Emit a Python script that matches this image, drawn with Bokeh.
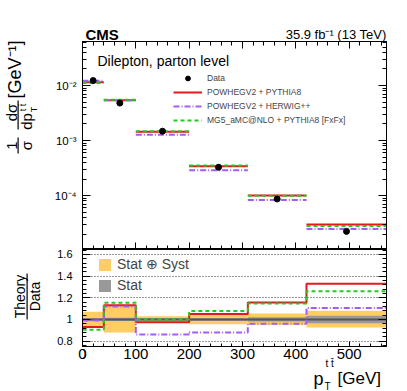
import numpy as np
from bokeh.plotting import figure
from bokeh.layouts import column, row
from bokeh.models import (Range1d, LinearAxis, LogAxis, FixedTicker, SingleIntervalTicker,
                          CustomJSTickFormatter, Legend, LegendItem, Label, BoxAnnotation)
from bokeh.embed import file_html
from bokeh.resources import INLINE

# ---------------- data ----------------
bin_edges = [0, 40, 100, 200, 310, 420, 570]
bin_centers = [20, 70, 150, 255, 365, 495]
data_xsec = [1.23e-2, 4.8e-3, 1.48e-3, 3.27e-4, 8.7e-5, 2.24e-5]

powheg_py8 = [1.144e-2, 5.42e-3, 1.44e-3, 3.43e-4, 1.007e-4, 2.98e-5]
powheg_hw = [1.218e-2, 5.38e-3, 1.27e-3, 2.88e-4, 8.35e-5, 2.48e-5]
mg5_py8 = [1.113e-2, 5.54e-3, 1.48e-3, 3.52e-4, 9.98e-5, 2.82e-5]

ratio_powheg_py8 = [0.93, 1.13, 0.975, 1.05, 1.157, 1.33]
ratio_powheg_hw = [0.99, 1.12, 0.86, 0.88, 0.96, 1.105]
ratio_mg5_py8 = [0.905, 1.155, 1.0, 1.077, 1.147, 1.26]
ratio_data = [1.0, 1.0, 1.0, 1.0, 1.0, 1.0]

tot_up = [0.07, 0.13, 0.03, 0.06, 0.055, 0.08]
tot_dn = [0.07, 0.12, 0.03, 0.045, 0.05, 0.075]
stat_rel = [0.012, 0.015, 0.01, 0.012, 0.02, 0.035]

x_major = 100
y_ratio_major = 0.2

FONT = "Liberation Sans"
RED = "#e3191c"
PURPLE = "#a65cf2"
GREEN = "#1fcc1f"
ORANGE = "#ffcc66"
GREY = "#999999"

# layout constants (pixels)
SW = 42          # width of the left strip holding the y titles
W = 361          # width of the panels
BL, BR = 40, 17  # left / right borders of the panels
H1 = 249
H2 = 98
HB = 44
XMIN, XMAX = 0, 570

log_fmt = CustomJSTickFormatter(code="""
const e = Math.round(Math.log10(tick));
const sup = {'-':'\u207b','0':'\u2070','1':'\u00b9','2':'\u00b2','3':'\u00b3','4':'\u2074','5':'\u2075','6':'\u2076','7':'\u2077','8':'\u2078','9':'\u2079'};
return '10' + String(e).split('').map(c => sup[c]).join('');
""")
ratio_fmt = CustomJSTickFormatter(code="return String(Number(tick.toFixed(2)));")


def style_axis(ax, major_in, minor_in, labels=True, size="11px", standoff=5):
    ax.major_tick_in = major_in
    ax.major_tick_out = 0
    ax.minor_tick_in = minor_in
    ax.minor_tick_out = 0
    ax.axis_line_color = "black"
    ax.major_tick_line_color = "black"
    ax.minor_tick_line_color = "black"
    ax.major_label_text_font = FONT
    ax.major_label_text_color = "black"
    if labels:
        ax.major_label_text_font_size = size
        ax.major_label_standoff = standoff
    else:
        ax.formatter = CustomJSTickFormatter(code="return '';")
        ax.major_label_text_font_size = "1px"
        ax.major_label_standoff = 0


def clean(p):
    p.xgrid.visible = False
    p.ygrid.visible = False
    p.background_fill_color = "white"
    p.border_fill_color = "white"


x_ticker = SingleIntervalTicker(interval=x_major, num_minor_ticks=5)

# ---------------- upper panel ----------------
p1 = figure(width=W, height=H1, x_range=Range1d(XMIN, XMAX), y_range=Range1d(1.05e-5, 6.3e-2),
            y_axis_type="log", output_backend="svg", toolbar_location=None,
            min_border_left=BL, min_border_right=BR, min_border_top=41, min_border_bottom=0)
clean(p1)
p1.outline_line_color = "black"

log_major = FixedTicker(ticks=[10.0 ** e for e in range(-6, 0)],
                        minor_ticks=[k * 10.0 ** e for e in range(-6, 0) for k in range(2, 10)])
p1.yaxis.ticker = log_major
p1.yaxis.formatter = log_fmt
style_axis(p1.yaxis[0], 8, 4, True, "11.5px", 6)
p1.xaxis.ticker = x_ticker
style_axis(p1.xaxis[0], 7, 4, False)
ax_r = LogAxis(ticker=log_major)
style_axis(ax_r, 8, 4, False)
p1.add_layout(ax_r, "right")
ax_t = LinearAxis(ticker=x_ticker)
style_axis(ax_t, 7, 4, False)
p1.add_layout(ax_t, "above")

r_red = p1.segment(x0=bin_edges[:-1], y0=powheg_py8, x1=bin_edges[1:], y1=powheg_py8,
                   line_color=RED, line_width=2)
r_pur = p1.segment(x0=bin_edges[:-1], y0=powheg_hw, x1=bin_edges[1:], y1=powheg_hw,
                   line_color=PURPLE, line_width=2, line_dash="6 2 1 2")
r_grn = p1.segment(x0=bin_edges[:-1], y0=mg5_py8, x1=bin_edges[1:], y1=mg5_py8,
                   line_color=GREEN, line_width=2, line_dash="4 3")

err_lo = [d * (1 - e) for d, e in zip(data_xsec, tot_dn)]
err_hi = [d * (1 + e) for d, e in zip(data_xsec, tot_up)]
p1.segment(x0=bin_centers, y0=err_lo, x1=bin_centers, y1=err_hi, line_color="black", line_width=1.5)
r_dat = p1.scatter(bin_centers, data_xsec, size=6, color="black")
r_bar = p1.scatter(x=[0], y=[1.0], marker="dash", angle=np.pi / 2, size=12,
                   line_color="black", line_width=1.5)

leg1 = Legend(items=[LegendItem(label="Data", renderers=[r_bar, r_dat]),
                     LegendItem(label="POWHEGV2 + PYTHIA8", renderers=[r_red]),
                     LegendItem(label="POWHEGV2 + HERWIG++", renderers=[r_pur]),
                     LegendItem(label="MG5_aMC@NLO + PYTHIA8 [FxFx]", renderers=[r_grn])],
              location=(91, 123), padding=0, margin=0, spacing=2,
              glyph_width=29, glyph_height=12, label_height=12, label_standoff=5,
              label_text_font=FONT, label_text_font_size="8.5px",
              border_line_color=None, background_fill_alpha=0)
p1.add_layout(leg1)


def lab(p, text, x, y, size, units="canvas", place=None, bold=False,
        align="left", baseline="alphabetic", angle=0.0):
    lb = Label(x=x, y=y, x_units=units, y_units=units, text=text,
               text_font=FONT, text_font_size=size, text_color="black",
               text_font_style="bold" if bold else "normal",
               text_align=align, text_baseline=baseline, angle=angle)
    if place is None:
        p.add_layout(lb)
    else:
        p.add_layout(lb, place)


# page x -> panel canvas x : minus SW
lab(p1, "CMS", 85 - SW, 34, "15px", place="above", bold=True)
lab(p1, "35.9 fb\u207b\u00b9 (13 TeV)", 386 - SW, 34, "13px", place="above", align="right")
lab(p1, "Dilepton, parton level", 97 - SW, 60, "14px")

# ---------------- lower panel ----------------
p2 = figure(width=W, height=H2, x_range=p1.x_range, y_range=Range1d(0.75, 1.646),
            output_backend="svg", toolbar_location=None,
            min_border_left=BL, min_border_right=BR, min_border_top=0, min_border_bottom=1)
clean(p2)
p2.outline_line_color = "black"
ratio_ticker = SingleIntervalTicker(interval=y_ratio_major, num_minor_ticks=5)
p2.yaxis.ticker = ratio_ticker
p2.yaxis.formatter = ratio_fmt
style_axis(p2.yaxis[0], 8, 4, True, "11px", 10)
p2.xaxis.ticker = x_ticker
style_axis(p2.xaxis[0], 5, 3, False)
ax_r2 = LinearAxis(ticker=ratio_ticker)
style_axis(ax_r2, 8, 4, False)
p2.add_layout(ax_r2, "right")
p2.ygrid.visible = True
p2.ygrid.ticker = ratio_ticker
p2.ygrid.grid_line_color = "#333333"
p2.ygrid.grid_line_dash = "1 2"
p2.ygrid.grid_line_width = 1

band_top = [1 + u for u in tot_up]
band_bot = [1 - d for d in tot_dn]
stat_top = [1 + s for s in stat_rel]
stat_bot = [1 - s for s in stat_rel]
r_tot = p2.quad(left=bin_edges[:-1], right=bin_edges[1:], bottom=band_bot, top=band_top,
                fill_color=ORANGE, line_color=None)
r_stat = p2.quad(left=bin_edges[:-1], right=bin_edges[1:], bottom=stat_bot, top=stat_top,
                 fill_color=GREY, line_color=None)
p2.step(x=bin_edges, y=ratio_data + ratio_data[-1:], mode="after", line_color="#555555", line_width=2)
p2.step(x=bin_edges, y=ratio_powheg_py8 + ratio_powheg_py8[-1:], mode="after",
        line_color=RED, line_width=2)
p2.step(x=bin_edges, y=ratio_powheg_hw + ratio_powheg_hw[-1:], mode="after",
        line_color=PURPLE, line_width=2, line_dash="6 2 1 2")
p2.step(x=bin_edges, y=ratio_mg5_py8 + ratio_mg5_py8[-1:], mode="after",
        line_color=GREEN, line_width=2, line_dash="4 3")

leg2 = Legend(items=[LegendItem(label="Stat \u2295 Syst", renderers=[r_tot]),
                     LegendItem(label="Stat", renderers=[r_stat])],
              location=(15, 53), padding=0, margin=0, spacing=5,
              glyph_width=15, glyph_height=15, label_height=15, label_standoff=5,
              label_text_font=FONT, label_text_font_size="14px",
              border_line_color=None, background_fill_alpha=0)
p2.add_layout(leg2)

# ---------------- bottom strip: x tick labels (axis at its top edge) and x title ----------------
pb = figure(width=W, height=HB, x_range=p1.x_range, y_range=Range1d(HB, 0),
            output_backend="svg", toolbar_location=None, y_axis_location=None,
            min_border_left=BL, min_border_right=BR, min_border_top=0, min_border_bottom=0)
clean(pb)
pb.outline_line_color = None
XSTANDOFF = 1
xb = pb.xaxis[0]
xb.ticker = x_ticker
xb.fixed_location = 0
xb.axis_line_color = None
xb.major_tick_line_color = None
xb.minor_tick_line_color = None
xb.major_tick_in = 0
xb.major_tick_out = 0
xb.minor_tick_in = 0
xb.minor_tick_out = 0
xb.major_label_text_font = FONT
xb.major_label_text_font_size = "15px"
xb.major_label_text_color = "black"
xb.major_label_standoff = XSTANDOFF
# the tick label at the very left edge of the frame, completed from the left border
lab(pb, "0", BL, XSTANDOFF, "15px", place="left", align="center", baseline="top")

OYB = H1 + H2
lab(pb, "p", 313 - SW, 378 - OYB, "18px")
lab(pb, "T", 324 - SW, 386 - OYB, "10px")
lab(pb, "t t\u0304", 325 - SW, 363 - OYB, "10px")
lab(pb, "[GeV]", 337 - SW, 378 - OYB, "17px")

# ---------------- left strip: y titles ----------------
pl = figure(width=SW, height=H1 + H2 + HB, x_range=Range1d(0, SW), y_range=Range1d(H1 + H2 + HB, 0),
            output_backend="svg", toolbar_location=None, x_axis_location=None, y_axis_location=None,
            min_border_left=0, min_border_right=0, min_border_top=0, min_border_bottom=0)
clean(pl)
pl.outline_line_color = None
A = np.pi / 2


def vlab(text, x, y, size):
    lab(pl, text, x, y, size, units="data", align="center", baseline="middle", angle=A)


def bar(x0, x1, y0, y1):
    pl.add_layout(BoxAnnotation(left=x0, right=x1, top=y0, bottom=y1,
                                fill_color="black", fill_alpha=1.0, line_color=None))


vlab("[GeV\u207b\u00b9]", 14, 69, "18px")
vlab("d\u03c3", 11, 112, "15px")
bar(17, 18.2, 100, 129)
vlab("dp", 26, 121, "15px")
vlab("t t\u0304", 22, 107, "9px")
vlab("T", 33, 109, "9px")
vlab("1", 11, 145, "15px")
bar(17, 18.2, 137, 153)
vlab("\u03c3", 26, 145, "15px")

vlab("Theory", 19.5, 296, "14px")
bar(26, 27.2, 273, 319)
vlab("Data", 34.5, 296, "14px")

layout = row(pl, column(p1, p2, pb, spacing=0), spacing=0)
open("out.html", "w").write(file_html(layout, INLINE))
